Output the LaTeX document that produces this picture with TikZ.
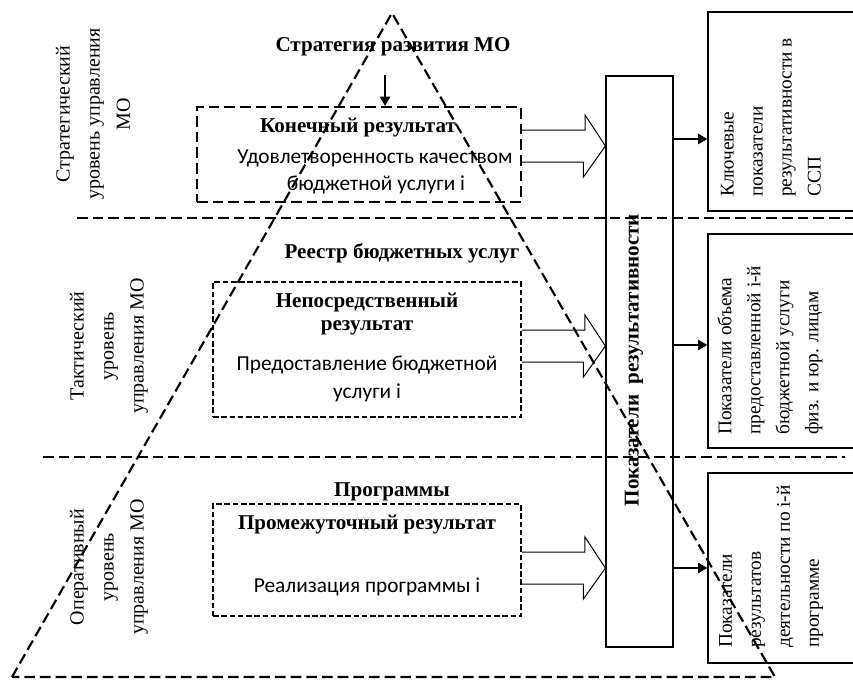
\documentclass[tikz,border=0pt]{standalone}
\usepackage{fontspec}
\setmainfont{Liberation Serif}
\newfontfamily\calib{Carlito}
\usetikzlibrary{arrows.meta}
\tikzset{
  resbox/.style={draw, dash pattern=on 8pt off 3.75pt, line width=1.6pt, inner sep=0pt},
  resboxs/.style={draw, dash pattern=on 4.2pt off 2pt, line width=1.4pt, inner sep=0pt},
  pokbox/.style={draw, line width=0.9pt, inner sep=0pt},
  lvline/.style={dash pattern=on 8pt off 3.75pt, line width=1.6pt},
  hollow/.style={line width=0.75pt},
  fatarr/.style={line width=2pt, -{Triangle[length=7pt,width=7.5pt]}},
  hdr/.style={font=\fontsize{15.8}{18}\selectfont\bfseries, inner sep=0.75pt},
  sans/.style={font=\calib\fontsize{16}{18}\selectfont, inner sep=0.75pt},
  lvl/.style={font=\fontsize{15}{22.5}\selectfont, align=center, rotate=90, inner sep=0.75pt},
  ind/.style={font=\fontsize{14.5}{21.75}\selectfont, align=left, rotate=90, anchor=west, inner sep=0pt},
}
\begin{document}
\begin{tikzpicture}[x=0.75pt,y=0.75pt,yscale=-1,xscale=1]
    \clip (0,0) rectangle (853,679);

    %Shape: Triangle
    \coordinate (apex) at (392,13);
    \coordinate (bl) at (12,677);
    \coordinate (br) at (775,677);
    \draw [lvline] (bl) -- (apex) -- (br) -- cycle;
    %Straight Lines
    \draw [lvline] (77,218) -- (853,218);
    \draw [lvline] (43,457) -- (845,457);

    %Shape: Rectangle
    \node [resbox, minimum width=243pt, minimum height=71.25pt] (kon) at (359,154.5) {};
    \node [resboxs, minimum width=231pt, minimum height=101.25pt] (nep) at (367,349.5) {};
    \node [resboxs, minimum width=231pt, minimum height=84pt] (prom) at (367,560) {};
    \node [pokbox, minimum width=50.25pt, minimum height=428.25pt] (pok) at (639.5,361.5) {};
    \node [pokbox, minimum width=111pt, minimum height=149.25pt] (kl) at (782,111.5) {};
    \node [pokbox, minimum width=111pt, minimum height=160.5pt] (ob) at (782,341) {};
    \node [pokbox, minimum width=111pt, minimum height=142.5pt] (dt) at (782,568) {};

    %Block arrows
    \draw [hollow] (kon.east |- 0,130) -- ++(63,0) -- ++(0,-15) -- (pok.west |- 0,146) -- ++(-22,31) -- ++(0,-15) -- (kon.east |- 0,162);
    \draw [hollow] (nep.east |- 0,330) -- ++(63,0) -- ++(0,-15) -- (pok.west |- 0,346) -- ++(-22,31) -- ++(0,-15) -- (nep.east |- 0,362);
    \draw [hollow] (prom.east |- 0,552) -- ++(63,0) -- ++(0,-15) -- (pok.west |- 0,568) -- ++(-22,31) -- ++(0,-15) -- (prom.east |- 0,584);

    %Arrows
    \coordinate (sdn) at (385,75);
    \draw [fatarr] (sdn) -- (sdn |- kon.north);
    \draw [fatarr] (pok.east |- 0,139) -- (kl.west |- 0,139);
    \draw [fatarr] (pok.east |- 0,345) -- (ob.west |- 0,345);
    \draw [fatarr] (pok.east |- 0,568) -- (dt.west |- 0,568);

    % Text Node
    \draw (393,47) node [hdr] (strat) {Стратегия развития МО};
    \draw (402,253) node [hdr] (reestr) {Реестр бюджетных услуг};
    \draw (392,492) node [hdr] (progr) {Программы};
    % Text Node
    \draw (358,128) node [hdr] (konres) {Конечный результат};
    \draw (375,158) node [sans] (udov) {Удовлетворенность качеством};
    \draw (376,185) node [sans] (budg) {бюджетной услуги i};
    % Text Node
    \draw (367,302) node [hdr] (nepo) {Непосредственный};
    \draw (367,328) node [hdr] (nres) {результат};
    \draw (367,365) node [sans] (pred) {Предоставление бюджетной};
    \draw (367,393) node [sans] (usl) {услуги i};
    % Text Node
    \draw (367,525) node [hdr] (promres) {Промежуточный результат};
    \draw (367,587) node [sans] (real) {Реализация программы i};
    % Text Node
    \draw (634,360) node [hdr, rotate=90] (pokt) {Показатели\ \ результативности};
    % Text Node
    \draw (93,114) node [lvl] (strl) {Стратегический\\уровень управления\\МО};
    \draw (109,346) node [lvl] (takl) {Тактический\\уровень\\управления МО};
    \draw (109,567) node [lvl] (opl) {Оперативный\\уровень\\управления МО};
    % Text Node
    \draw (771,197) node [ind] (klt) {Ключевые\\показатели\\результативности в\\ССП};
    \draw (770,435) node [ind] (obt) {Показатели объема\\предоставленной i-й\\бюджетной услуги\\физ. и юр. лицам};
    \draw (771,648) node [ind] (dtt) {Показатели\\результатов\\деятельности по i-й\\программе};
\end{tikzpicture}
\end{document}
